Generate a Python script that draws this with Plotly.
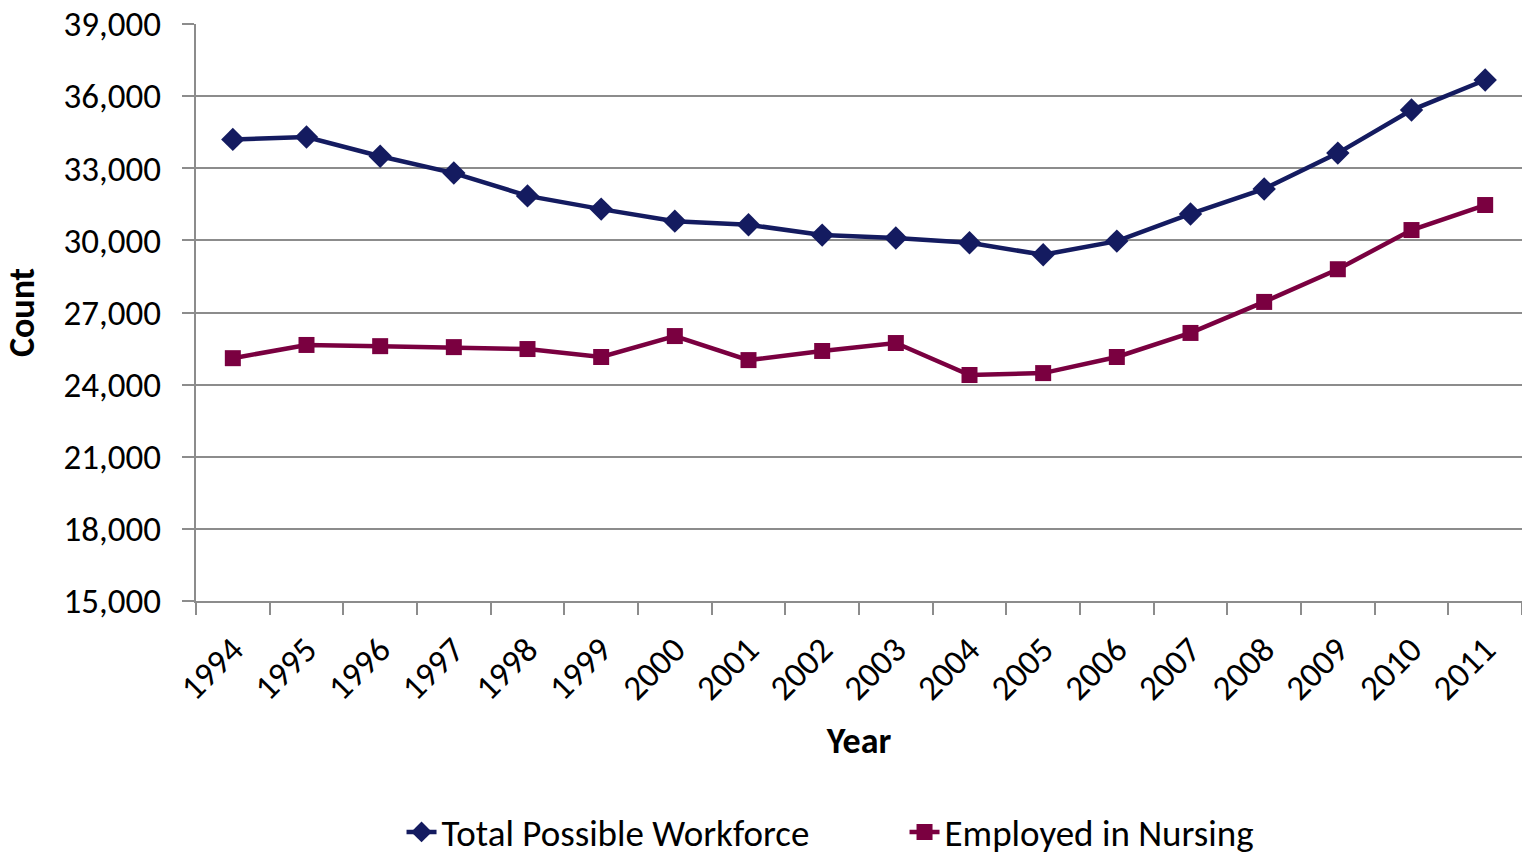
import plotly.graph_objects as go

years = [str(y) for y in range(1994, 2012)]
total_workforce = [34200, 34300, 33500, 32800, 31850, 31300, 30800, 30650, 30220, 30100,
                   29900, 29400, 29970, 31100, 32140, 33630, 35420, 36670]
employed_nursing = [25100, 25650, 25600, 25560, 25480, 25150, 26020, 25020, 25400, 25730,
                    24400, 24480, 25150, 26150, 27440, 28800, 30430, 31470]
y_ticks = list(range(15000, 39001, 3000))

FONT = "Carlito, Lato, 'Open Sans', sans-serif"
navy = "#141B60"
maroon = "#7A0040"
grey = "#8c8c8c"

fig = go.Figure()
fig.add_trace(go.Scatter(
    x=years, y=total_workforce, name="Total Possible Workforce", mode="lines+markers",
    line=dict(color=navy, width=4.5),
    marker=dict(symbol="diamond", size=18, color=navy),
))
fig.add_trace(go.Scatter(
    x=years, y=employed_nursing, name="Employed in Nursing", mode="lines+markers",
    line=dict(color=maroon, width=4.5),
    marker=dict(symbol="square", size=16, color=maroon),
))

fig.update_layout(
    width=1522, height=855,
    margin=dict(l=196, r=0, t=24, b=254, autoexpand=False),
    plot_bgcolor="white", paper_bgcolor="white",
    font=dict(family=FONT, size=36, color="black"),
    showlegend=True,
    legend=dict(orientation="h", x=0.155, xanchor="left", y=-0.401, yanchor="middle",
                font=dict(size=37), entrywidth=458, entrywidthmode="pixels",
                tracegroupgap=0),
    xaxis=dict(
        type="category", tickson="boundaries", ticks="outside", ticklen=12,
        tickcolor=grey, tickwidth=2, tickangle=-45,
        showline=True, linecolor=grey, linewidth=2, showgrid=False,
        range=[-0.5, 17.5], automargin=False,
        title=dict(text="<b>Year</b>", font=dict(size=36), standoff=20),
        tickfont=dict(size=35), ticklabelstandoff=12,
    ),
    yaxis=dict(
        range=[15000, 39000], tickvals=y_ticks, tickformat=",",
        ticks="outside", ticklen=12, tickcolor=grey, tickwidth=2,
        showline=True, linecolor=grey, linewidth=2,
        showgrid=True, gridcolor=grey, gridwidth=2, automargin=False,
        title=dict(text="<b>Count</b>", font=dict(size=36), standoff=22),
        tickfont=dict(size=35), zeroline=False, ticklabelstandoff=14,
    ),
)

fig.write_html("out.html")
